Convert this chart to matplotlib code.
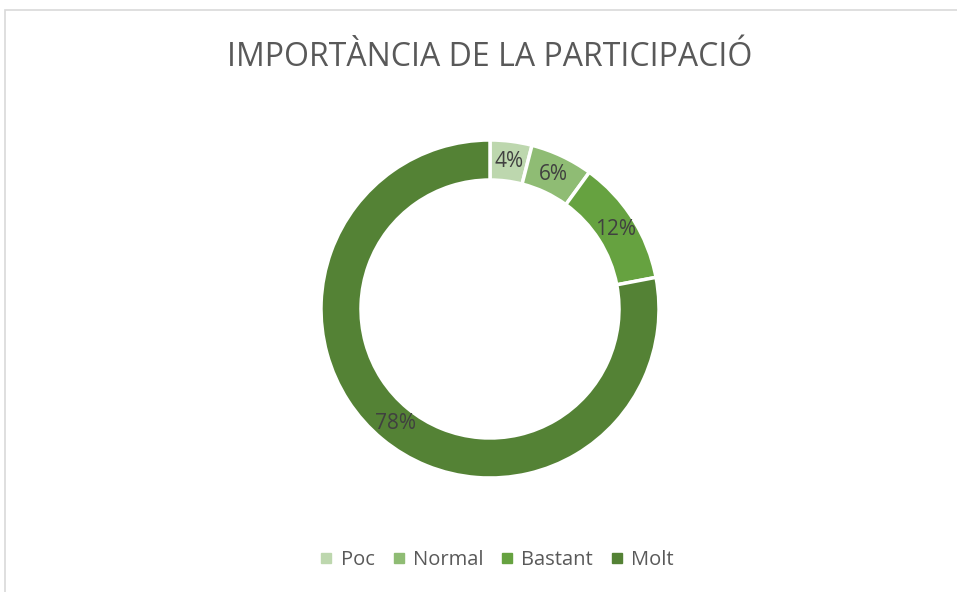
import numpy as np
import matplotlib.pyplot as plt
from matplotlib.patches import Rectangle
from matplotlib.lines import Line2D

plt.rcParams['font.family'] = ['Open Sans', 'DejaVu Sans']

labels = ['Poc', 'Normal', 'Bastant', 'Molt']
values = [4, 6, 12, 78]
colors = ['#bdd7ae', '#8fbc74', '#66a240', '#548235']
title = 'IMPORTÀNCIA DE LA PARTICIPACIÓ'

W, H = 957, 592
fig = plt.figure(figsize=(W / 100, H / 100), dpi=100)

# chart frame
fig.patches.append(Rectangle((5 / W, -0.1), 1.2, 1 - 10 / H + 0.1, transform=fig.transFigure,
                             fill=False, edgecolor='#d9d9d9', linewidth=1.2))

cx, cy, R = 490, H - 309, 169
ax = fig.add_axes([(cx - R) / W, (cy - R) / H, 2 * R / W, 2 * R / H])
wedges, _ = ax.pie(values, colors=colors, startangle=90, counterclock=False, radius=1,
                   wedgeprops=dict(width=40 / R, edgecolor='white', linewidth=2.5))
ax.set_xlim(-1, 1)
ax.set_ylim(-1, 1)
ax.set_aspect('equal')
ax.axis('off')

total = sum(values)
cum = 0
rmid = 1 - 20 / R
for v in values:
    mid = (cum + v / 2) / total * 2 * np.pi
    cum += v
    ax.text(rmid * np.sin(mid), rmid * np.cos(mid), f'{round(100 * v / total)}%',
            ha='center', va='center', fontsize=15, color='#404040')

fig.text(cx / W, 1 - 57 / H, title, ha='center', va='center', fontsize=23, color='#595959')

handles = [Line2D([], [], marker='s', linestyle='', markersize=7.5, color=c) for c in colors]
fig.legend(handles, labels, loc='center', bbox_to_anchor=(cx / W + 0.006, 1 - 560 / H), ncol=4,
           frameon=False, fontsize=14.5, labelcolor='#595959', handletextpad=0.25,
           columnspacing=0.75, handlelength=0.9)

fig.savefig('out.png', dpi=100)
